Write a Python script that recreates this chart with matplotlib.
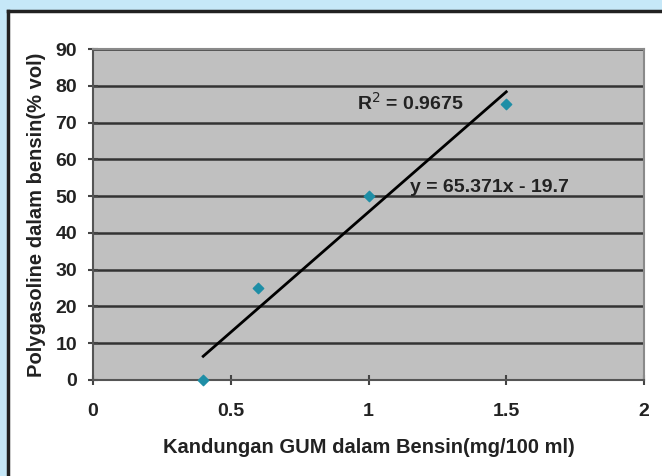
import matplotlib
matplotlib.use('Agg')
from matplotlib import pyplot as plt
import numpy as np

plt.rcParams['font.family'] = ['Liberation Sans', 'DejaVu Sans']

# data
gum = [0.4, 0.6, 1.0, 1.5]
polygasoline = [0, 25, 50, 75]
x_ticks = [0, 0.5, 1, 1.5, 2]
y_ticks = [0, 10, 20, 30, 40, 50, 60, 70, 80, 90]

slope, intercept = np.polyfit(gum, polygasoline, 1)
pred = np.polyval([slope, intercept], gum)
r2 = 1 - np.sum((np.array(polygasoline) - pred) ** 2) / np.sum((np.array(polygasoline) - np.mean(polygasoline)) ** 2)

fig = plt.figure(figsize=(6.62, 4.76), dpi=100)
fig.patch.set_facecolor('#c6e8f8')

# white panel with black border on left/top
bg = fig.add_axes([8 / 662, -0.01, 1.02, 1 - 11 / 476 + 0.01], zorder=-1)
bg.set_facecolor('white')
bg.set_xticks([])
bg.set_yticks([])
for s in ['right', 'bottom']:
    bg.spines[s].set_visible(False)
for s in ['left', 'top']:
    bg.spines[s].set_color('#222222')
    bg.spines[s].set_linewidth(2.5)

ax = fig.add_axes([93 / 662, 96 / 476, 551 / 662, 331 / 476])
ax.set_facecolor('#c0c0c0')
ax.set_xlim(0, 2)
ax.set_ylim(0, 90)
ax.set_xticks(x_ticks)
ax.set_xticklabels([str(t) for t in x_ticks])
ax.set_yticks(y_ticks)

for y in y_ticks[1:]:
    ax.axhline(y, color='#333333', lw=1.8, zorder=1)

xs = np.array([min(gum), max(gum)])
ax.plot(xs, slope * xs + intercept, color='black', lw=2, zorder=3)
ax.scatter(gum, polygasoline, marker='D', s=28, color='#1e8ea6', zorder=4, clip_on=False)

ax.text(0.96, 75.3, 'R$^2$ = %.4f' % r2, fontsize=14, fontweight='bold', color='#222222',
        va='center', ha='left', zorder=5)
ax.text(1.15, 52.4, 'y = %.3fx - %.1f' % (slope, -intercept), fontsize=14, fontweight='bold',
        color='#222222', va='center', ha='left', zorder=5)

for s in ['top', 'right']:
    ax.spines[s].set_color('#8a8a8a')
    ax.spines[s].set_linewidth(1.5)
ax.spines['left'].set_color('#555555')
ax.spines['bottom'].set_color('#555555')
ax.spines['left'].set_linewidth(1.5)
ax.spines['bottom'].set_linewidth(1.5)

ax.tick_params(axis='both', direction='inout', length=7, width=1.5, color='#444444',
               labelsize=14, labelcolor='#222222')
for lab in ax.get_xticklabels() + ax.get_yticklabels():
    lab.set_fontweight('bold')
ax.tick_params(axis='x', pad=13)
ax.tick_params(axis='y', pad=8)

ax.set_xlabel('Kandungan GUM dalam Bensin(mg/100 ml)', fontsize=14.5, fontweight='bold',
              color='#222222', labelpad=13)
ax.set_ylabel('Polygasoline dalam bensin(% vol)', fontsize=14.5, fontweight='bold',
              color='#222222', labelpad=7)

fig.savefig('out.png', dpi=100, facecolor=fig.get_facecolor())
